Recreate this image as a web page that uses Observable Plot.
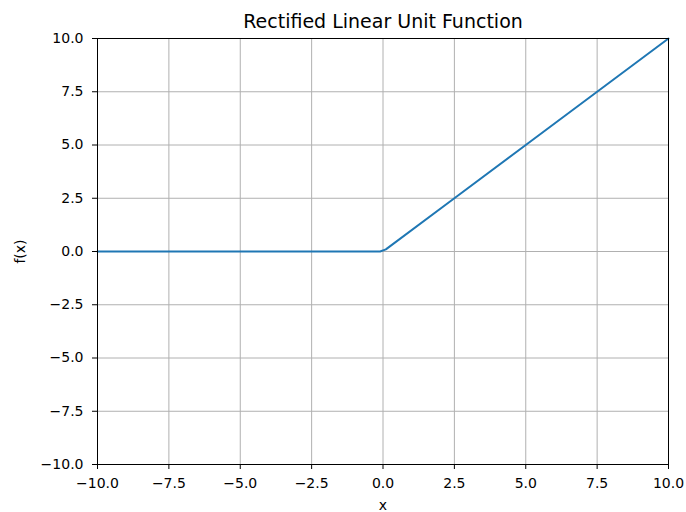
<!DOCTYPE html>
<html>
<head>
<meta charset="utf-8">
<script src="https://cdn.jsdelivr.net/npm/d3@7"></script>
<script src="https://cdn.jsdelivr.net/npm/@observablehq/plot@0.6"></script>
<style>
  html, body { margin: 0; padding: 0; background: #fff; }
  #chart svg { display: block; }
</style>
</head>
<body>
<div id="chart"></div>
<script>
// ReLU curve, sampled points of f(x) = max(0, x)
const xs = [-10, -7.5, -5, -2.5, -0.1, 0.1, 2.5, 5, 7.5, 10];
const ys = [0, 0, 0, 0, 0, 0.1, 2.5, 5, 7.5, 10];

const xTicks = [-10, -7.5, -5, -2.5, 0, 2.5, 5, 7.5, 10];
const yTicks = [-10, -7.5, -5, -2.5, 0, 2.5, 5, 7.5, 10];

const title = "Rectified Linear Unit Function";
const xLabel = "x";
const yLabel = "f(x)";

const points = xs.map((x, i) => ({x, y: ys[i]}));
const fmt = d => d.toFixed(1).replace("-", "\u2212");
const font = "DejaVu Sans, sans-serif";

const chart = Plot.plot({
  width: 686,
  height: 512,
  marginLeft: 97,
  marginRight: 18,
  marginTop: 38,
  marginBottom: 48,
  style: {fontFamily: font, fontSize: "14px", color: "#000", background: "#fff"},
  x: {domain: [-10, 10]},
  y: {domain: [-10, 10]},
  marks: [
    Plot.gridX(xTicks, {stroke: "#b0b0b0", strokeOpacity: 1, strokeWidth: 1}),
    Plot.gridY(yTicks, {stroke: "#b0b0b0", strokeOpacity: 1, strokeWidth: 1}),
    Plot.line(points, {x: "x", y: "y", stroke: "#1f77b4", strokeWidth: 2}),
    Plot.frame({stroke: "#000", strokeWidth: 1}),
    Plot.axisX(xTicks, {tickFormat: fmt, tickSize: 5, tickPadding: 9, fontSize: 14,
      label: xLabel, labelAnchor: "center", labelArrow: "none", labelOffset: 45}),
    Plot.axisY(yTicks, {tickFormat: fmt, tickSize: 5, tickPadding: 9, fontSize: 14,
      label: yLabel, labelAnchor: "center", labelArrow: "none", labelOffset: 82}),
    Plot.text([title], {frameAnchor: "top", lineAnchor: "bottom", dy: -11, fontSize: 19, fill: "#000"})
  ]
});

document.getElementById("chart").append(chart);
</script>
</body>
</html>
